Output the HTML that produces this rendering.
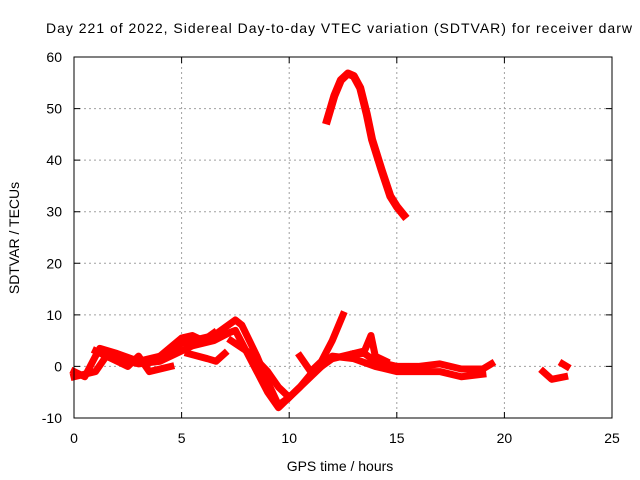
<!DOCTYPE html>
<html><head><meta charset="utf-8"><style>body{margin:0;background:#fff}svg{display:block;font-family:"Liberation Sans",sans-serif}</style></head>
<body>
<svg id="c" width="640" height="480">
<text x="339" y="33" text-anchor="middle" font-size="14" textLength="586">Day 221 of 2022, Sidereal Day-to-day VTEC variation (SDTVAR) for receiver darw</text>
<text x="340" y="471" text-anchor="middle" font-size="14">GPS time / hours</text>
<text transform="translate(19,238) rotate(-90)" text-anchor="middle" font-size="14">SDTVAR / TECUs</text>
<g id="grid"></g><g id="data"></g>
<rect x="74" y="57" width="538" height="361" fill="none" stroke="#000"/>
</svg>
<script>
const xTicks=[0,5,10,15,20,25];
const yTicks=[-10,0,10,20,30,40,50,60];
const arc=[[11.76,47.7],[12.1,52.5],[12.4,55.5],[12.73,56.8],[13.0,56.3],[13.3,54],[13.6,49],[13.85,44],[14.3,38],[14.7,33],[15.0,31],[15.33,29.3]];
const track1=[[0,-1],[0.5,-2],[1,2],[1.2,3.5],[2,2.5],[3,1],[4,2],[5,4.5],[6,5.5],[6.5,6],[7,7.5],[7.5,9],[7.8,8],[8.5,2],[9,-3],[9.5,-7.5],[10,-6],[10.5,-4],[11,-1.5],[12,1.5],[13,2.5],[13.5,2.5],[14,1],[15,0],[16,0],[17,0.5],[18,-0.5],[19,-0.5],[19.4,0.5]];
const track2=[[0,-2],[1,-1],[1.5,2],[3,0.5],[4,1],[5,3],[5.5,4],[6.5,5],[7.2,6.5],[7.5,7],[8,3],[8.5,-1],[9,-5],[9.5,-8],[10,-6],[11,-2],[12,2],[13,1.5],[14,0],[15,-1],[17,-1],[18,-2],[19,-1.5]];
const track3=[[7.3,5],[8.2,2.5],[9,-1],[9.5,-4],[10,-6]];
const track4=[[10.5,2],[11,-1],[11.5,1],[12,5],[12.5,10]];
const track5=[[13,2.5],[13.5,3],[13.8,6],[14,2],[14.5,1]];
const track6=[[4,2],[5,5.5],[5.5,6],[6,5],[6.5,6.5]];
const track7=[[5.3,2.5],[6.2,1.5],[6.6,1],[7,2.5]];
const track8=[[1,3],[2,1],[2.5,0],[3,2],[3.5,-1],[4.5,0]];
const track9=[[21.8,-1],[22.2,-2.5],[22.8,-2]];
const track10=[[22.7,0.5],[22.9,0]];
const series=[arc,track1,track2,track3,track4,track5,track6,track7,track8,track9,track10];
const X=h=>74+h*538/25, Y=v=>418-(v+10)*361/70;
const ns="http://www.w3.org/2000/svg";
const g=document.getElementById('grid'), d=document.getElementById('data'), svg=document.getElementById('c');
xTicks.forEach(t=>{
 const x=X(t);
 if(t>0&&t<25){const l=document.createElementNS(ns,'line');l.setAttribute('x1',x);l.setAttribute('x2',x);l.setAttribute('y1',57);l.setAttribute('y2',418);l.setAttribute('stroke','#a0a0a0');l.setAttribute('stroke-dasharray','2,3');
 
 g.appendChild(l);}
 const tk=document.createElementNS(ns,'path');tk.setAttribute('d',`M${x},418v-6M${x},57v6`);tk.setAttribute('stroke','#000');
 
 g.appendChild(tk);
 const tx=document.createElementNS(ns,'text');tx.setAttribute('x',x);tx.setAttribute('y',443);tx.setAttribute('text-anchor','middle');tx.setAttribute('font-size','14');tx.textContent=t;
 
 svg.appendChild(tx);
});
yTicks.forEach(t=>{
 const y=Y(t);
 if(t>-10&&t<60){const l=document.createElementNS(ns,'line');l.setAttribute('x1',74);l.setAttribute('x2',612);l.setAttribute('y1',y);l.setAttribute('y2',y);l.setAttribute('stroke','#a0a0a0');l.setAttribute('stroke-dasharray','2,3');
 
 g.appendChild(l);}
 const tk=document.createElementNS(ns,'path');tk.setAttribute('d',`M74,${y}h6M612,${y}h-6`);tk.setAttribute('stroke','#000');
 
 g.appendChild(tk);
 const tx=document.createElementNS(ns,'text');tx.setAttribute('x',62);tx.setAttribute('y',y+5);tx.setAttribute('text-anchor','end');tx.setAttribute('font-size','14');tx.textContent=t;
 
 svg.appendChild(tx);
});
series.forEach((s,i)=>{
 const p=document.createElementNS(ns,'polyline');
 p.setAttribute('points',s.map(q=>X(q[0])+','+Y(q[1])).join(' '));
 p.setAttribute('fill','none');p.setAttribute('stroke','#f00');p.setAttribute('stroke-width',i==0?8:7);p.setAttribute('stroke-linejoin','round');p.setAttribute('stroke-linecap','square');
 
 
 d.appendChild(p);
});
</script>
</body></html>
